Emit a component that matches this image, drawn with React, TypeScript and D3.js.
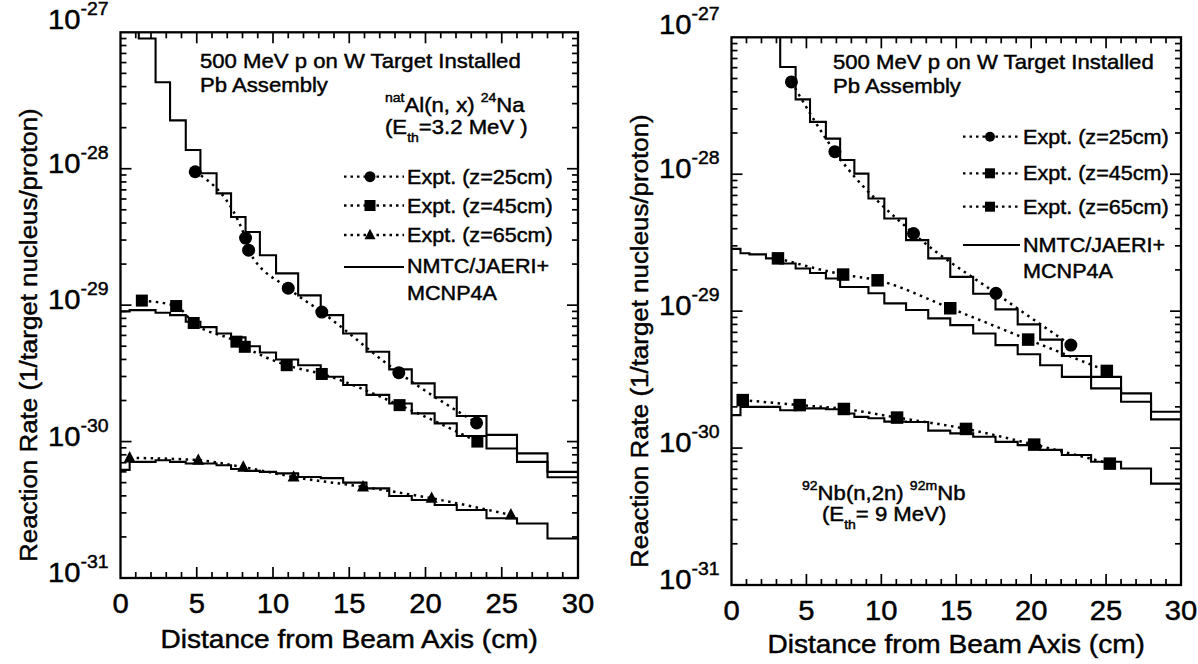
import React from "react";
import * as d3 from "d3";

const FONT = '"Liberation Sans", Arial, Helvetica, sans-serif';
const SX = 1.08;

// radial mesh of the calculation (cm)
const BIN_EDGES = [0, 0.6, 1.2, 2.3, 3.25, 4.28, 5.24, 6.3, 7.25, 8.2, 9.14, 10.2, 11.65, 13.13, 14.6, 16.13, 17.62, 19.1, 20.6, 22.05, 24.0, 26.0, 28.0, 30];

// Left panel: natAl(n,x)24Na — NMTC/JAERI+MCNP4A histograms
const AL_CALC_Z25 = [2e-27, 2e-27, 9.0e-28, 4.3e-28, 2.26e-28, 1.37e-28, 9.27e-29, 6.6e-29, 4.43e-29, 3.44e-29, 2.32e-29, 1.71e-29, 1.18e-29, 8.45e-30, 6.2e-30, 4.55e-30, 3.38e-30, 2.67e-30, 2.11e-30, 1.54e-30, 1.12e-30, 8.2e-31, 6.0e-31];
const AL_CALC_Z45 = [9.0e-30, 9.2e-30, 9.2e-30, 8.8e-30, 8.45e-30, 7.55e-30, 6.9e-30, 6.2e-30, 5.8e-30, 5.0e-30, 4.5e-30, 4.0e-30, 3.63e-30, 2.99e-30, 2.6e-30, 2.2e-30, 1.9e-30, 1.61e-30, 1.36e-30, 1.1e-30, 8.9e-31, 7.1e-31, 5.47e-31];
const AL_CALC_Z65 = [6.2e-31, 7.1e-31, 7.1e-31, 7.3e-31, 7.1e-31, 6.9e-31, 6.9e-31, 6.7e-31, 6.3e-31, 6.1e-31, 6.0e-31, 5.85e-31, 5.5e-31, 5.4e-31, 5.0e-31, 4.54e-31, 3.99e-31, 3.73e-31, 3.43e-31, 3.15e-31, 2.74e-31, 2.51e-31, 1.95e-31];

// Left panel: experiments
const AL_EXP_Z25_X = [4.9, 8.2, 8.4, 11.0, 13.2, 18.25, 23.35];
const AL_EXP_Z25_Y = [9.5e-29, 3.1e-29, 2.53e-29, 1.33e-29, 8.9e-30, 3.2e-30, 1.37e-30];
const AL_EXP_Z45_X = [1.4, 3.65, 4.8, 7.6, 8.15, 10.9, 13.2, 18.3, 23.4];
const AL_EXP_Z45_Y = [1.08e-29, 9.85e-30, 7.4e-30, 5.4e-30, 4.95e-30, 3.63e-30, 3.13e-30, 1.85e-30, 1.0e-30];
const AL_EXP_Z65_X = [0.6, 5.1, 8.05, 11.35, 15.9, 20.4, 25.6];
const AL_EXP_Z65_Y = [7.6e-31, 7.3e-31, 6.5e-31, 5.5e-31, 4.66e-31, 3.84e-31, 2.9e-31];

// Right panel: 92Nb(n,2n)92mNb — histograms
const NB_CALC_Z25 = [2e-27, 2e-27, 2e-27, 2e-27, 6.07e-28, 3.52e-28, 2.41e-28, 1.82e-28, 1.27e-28, 1.01e-28, 6.65e-29, 4.75e-29, 3.3e-29, 2.43e-29, 1.78e-29, 1.34e-29, 1.03e-29, 8.0e-30, 6.2e-30, 4.7e-30, 3.31e-30, 2.51e-30, 1.84e-30];
const NB_CALC_Z45 = [2.85e-29, 2.65e-29, 2.6e-29, 2.43e-29, 2.23e-29, 2.05e-29, 1.9e-29, 1.73e-29, 1.5e-29, 1.5e-29, 1.35e-29, 1.14e-29, 1.02e-29, 8.85e-30, 7.9e-30, 6.87e-30, 5.65e-30, 4.85e-30, 4.03e-30, 3.31e-30, 2.73e-30, 2.18e-30, 1.62e-30];
const NB_CALC_Z65 = [1.74e-30, 2.0e-30, 2.0e-30, 2.0e-30, 1.89e-30, 1.95e-30, 1.95e-30, 1.92e-30, 1.79e-30, 1.69e-30, 1.65e-30, 1.56e-30, 1.55e-30, 1.34e-30, 1.28e-30, 1.21e-30, 1.11e-30, 1.05e-30, 9.7e-31, 8.9e-31, 7.95e-31, 7.1e-31, 5.5e-31];

// Right panel: experiments
const NB_EXP_Z25_X = [4.0, 6.9, 12.15, 17.65, 22.65];
const NB_EXP_Z25_Y = [4.72e-28, 1.46e-28, 3.69e-29, 1.35e-29, 5.65e-30];
const NB_EXP_Z45_X = [3.1, 7.45, 9.75, 14.6, 19.8, 25.05];
const NB_EXP_Z45_Y = [2.43e-29, 1.85e-29, 1.68e-29, 1.05e-29, 6.2e-30, 3.66e-30];
const NB_EXP_Z65_X = [0.75, 4.55, 7.5, 11.05, 15.65, 20.2, 25.25];
const NB_EXP_Z65_Y = [2.24e-30, 2.06e-30, 1.93e-30, 1.67e-30, 1.38e-30, 1.06e-30, 7.7e-31];

const X_TICKS = [0, 5, 10, 15, 20, 25, 30];
const Y_EXPONENTS = [-27, -28, -29, -30, -31];
const LEGEND_LABELS = ["Expt. (z=25cm)", "Expt. (z=45cm)", "Expt. (z=65cm)"];
const CALC_LABEL = ["NMTC/JAERI+", "MCNP4A"];
const X_TITLE = "Distance from Beam Axis (cm)";
const Y_TITLE = "Reaction Rate (1/target nucleus/proton)";

type Geo = { x0: number; x1: number; y0: number; y1: number; titleY: number };
type Shape = "circle" | "square" | "triangle";

function Marker({ shape, x, y, s }: { shape: Shape; x: number; y: number; s: number }) {
  if (shape === "circle") return <circle cx={x} cy={y} r={s / 2} fill="#000" />;
  if (shape === "square") return <rect x={x - s / 2} y={y - s / 2} width={s} height={s} fill="#000" />;
  const h = s * 0.95;
  return <path d={`M${x},${y - h * 0.6}L${x + s / 2},${y + h * 0.4}L${x - s / 2},${y + h * 0.4}Z`} fill="#000" />;
}

function Label({ x, y, size, anchor = "start", rotate = 0, weight = 0.45, children }: any) {
  const tr = `translate(${x},${y})${rotate ? ` rotate(${rotate})` : ""} scale(${SX},1)`;
  return (
    <text transform={tr} fontSize={size} textAnchor={anchor} fontFamily={FONT} fill="#000" stroke="#000" strokeWidth={weight}>
      {children}
    </text>
  );
}

type Series = { xs: number[]; ys: number[]; shape: Shape; size: number };

function Panel({ geo, id, calc, expt, legend }: { geo: Geo; id: string; calc: number[][]; expt: Series[]; legend: any }) {
  const xs = d3.scaleLinear().domain([0, 30]).range([geo.x0, geo.x1]);
  const ys = d3.scaleLog().domain([1e-31, 1e-27]).range([geo.y1, geo.y0]);
  const step = d3
    .line<[number, number]>()
    .x((d) => xs(d[0]))
    .y((d) => ys(d[1]))
    .curve(d3.curveStepAfter);
  const smooth = d3
    .line<[number, number]>()
    .x((d) => xs(d[0]))
    .y((d) => ys(d[1]))
    .curve(d3.curveMonotoneX);

  const xMinor = d3.range(1, 30);
  const yMinor: { v: number; major: boolean }[] = [];
  for (let e = -31; e <= -28; e++) {
    for (let k = 1; k <= 9; k++) {
      const v = k * Math.pow(10, e);
      if (e === -31 && k === 1) continue;
      yMinor.push({ v, major: k === 1 });
    }
  }

  return (
    <g>
      <defs>
        <clipPath id={id}>
          <rect x={geo.x0} y={geo.y0} width={geo.x1 - geo.x0} height={geo.y1 - geo.y0} />
        </clipPath>
      </defs>
      <g clipPath={`url(#${id})`}>
        {calc.map((vals, i) => {
          const pts: [number, number][] = vals.map((v, j) => [BIN_EDGES[j], v] as [number, number]);
          pts.push([30, vals[vals.length - 1]]);
          return <path key={i} d={step(pts) || ""} fill="none" stroke="#000" strokeWidth={2.1} />;
        })}
        {expt.map((s, i) => {
          const pts: [number, number][] = s.xs.map((x, j) => [x, s.ys[j]] as [number, number]);
          return (
            <path key={i} d={smooth(pts) || ""} fill="none" stroke="#000" strokeWidth={2.5} strokeDasharray="2.5 4.5" />
          );
        })}
        {expt.map((s, i) =>
          s.xs.map((x, j) => <Marker key={`${i}-${j}`} shape={s.shape} x={xs(x)} y={ys(s.ys[j])} s={s.size} />)
        )}
      </g>
      {/* frame */}
      <rect x={geo.x0} y={geo.y0} width={geo.x1 - geo.x0} height={geo.y1 - geo.y0} fill="none" stroke="#000" strokeWidth={2.3} />
      {/* x ticks */}
      {xMinor.map((t) => {
        const L = t % 5 === 0 ? 11 : 6;
        return (
          <g key={t}>
            <line x1={xs(t)} x2={xs(t)} y1={geo.y1} y2={geo.y1 - L} stroke="#000" strokeWidth={1.7} />
            <line x1={xs(t)} x2={xs(t)} y1={geo.y0} y2={geo.y0 + L} stroke="#000" strokeWidth={1.7} />
          </g>
        );
      })}
      {/* y ticks */}
      {yMinor.map(({ v, major }, i) => {
        const L = major ? 11 : 6;
        return (
          <g key={i}>
            <line x1={geo.x0} x2={geo.x0 + L} y1={ys(v)} y2={ys(v)} stroke="#000" strokeWidth={1.7} />
            <line x1={geo.x1} x2={geo.x1 - L} y1={ys(v)} y2={ys(v)} stroke="#000" strokeWidth={1.7} />
          </g>
        );
      })}
      {/* x tick labels */}
      {X_TICKS.map((t) => (
        <Label key={t} x={xs(t)} y={geo.y1 + 35} size={27} anchor="middle">
          {t}
        </Label>
      ))}
      {/* y tick labels */}
      {Y_EXPONENTS.map((e) => (
        <Label key={e} x={geo.x0 - 12} y={ys(Math.pow(10, e)) + (e === -27 ? -3 : 4)} size={27} anchor="end">
          <tspan>10</tspan>
          <tspan fontSize={18} dy={-14}>{`${e}`}</tspan>
        </Label>
      ))}
      {/* axis titles */}
      <Label x={(geo.x0 + geo.x1) / 2} y={geo.titleY} size={26} anchor="middle">
        {X_TITLE}
      </Label>
      <Label x={geo.x0 - 84} y={(geo.y0 + geo.y1) / 2 + 30} size={24} anchor="middle" rotate={-90}>
        {Y_TITLE}
      </Label>
      {legend}
    </g>
  );
}

function Legend({ x0, x1, xm, xt, rows, lineY, textY }: any) {
  const shapes: Shape[] = rows.shapes;
  return (
    <g>
      {shapes.map((sh, i) => (
        <g key={i}>
          <line x1={x0} x2={x1} y1={rows.y[i]} y2={rows.y[i]} stroke="#000" strokeWidth={2.3} strokeDasharray="2.5 4" />
          <Marker shape={sh} x={xm} y={rows.y[i]} s={rows.size} />
          <Label x={xt} y={rows.y[i] + 7} size={20}>
            {LEGEND_LABELS[i]}
          </Label>
        </g>
      ))}
      <line x1={x0} x2={x1} y1={lineY} y2={lineY} stroke="#000" strokeWidth={2} />
      <Label x={xt} y={textY[0]} size={20}>
        {CALC_LABEL[0]}
      </Label>
      <Label x={xt} y={textY[1]} size={20}>
        {CALC_LABEL[1]}
      </Label>
    </g>
  );
}

const LEFT: Geo = { x0: 120.5, x1: 578, y0: 32.3, y1: 578, titleY: 648 };
const RIGHT: Geo = { x0: 731.5, x1: 1181, y0: 37.3, y1: 585, titleY: 653 };

export default function App() {
  const leftLegend = (
    <g>
      <Label x={200} y={68} size={20.5}>500 MeV p on W Target Installed</Label>
      <Label x={200} y={92} size={20.5}>Pb Assembly</Label>
      <Label x={385} y={112} size={20.5}>
        <tspan fontSize={13} dy={-10}>nat</tspan>
        <tspan dy={10}>Al(n, x) </tspan>
        <tspan fontSize={13} dy={-10}>24</tspan>
        <tspan dy={10}>Na</tspan>
      </Label>
      <Label x={385} y={134} size={20.5}>
        <tspan>(E</tspan>
        <tspan fontSize={13} dy={8}>th</tspan>
        <tspan dy={-8}>=3.2 MeV )</tspan>
      </Label>
      <Legend
        x0={344}
        x1={404}
        xm={370}
        xt={407}
        rows={{ shapes: ["circle", "square", "triangle"], y: [176.7, 205.5, 235], size: 11 }}
        lineY={267}
        textY={[273, 300]}
      />
    </g>
  );
  const rightLegend = (
    <g>
      <Label x={833} y={68.5} size={20.5}>500 MeV p on W Target Installed</Label>
      <Label x={833} y={92.5} size={20.5}>Pb Assembly</Label>
      <Legend
        x0={963}
        x1={1020}
        xm={990}
        xt={1023}
        rows={{ shapes: ["circle", "square", "square"], y: [136.7, 173.3, 206.7], size: 10 }}
        lineY={245}
        textY={[252, 278]}
      />
      <Label x={802} y={500} size={20.5}>
        <tspan fontSize={13} dy={-10}>92</tspan>
        <tspan dy={10}>Nb(n,2n) </tspan>
        <tspan fontSize={13} dy={-10}>92m</tspan>
        <tspan dy={10}>Nb</tspan>
      </Label>
      <Label x={822} y={521} size={20.5}>
        <tspan>(E</tspan>
        <tspan fontSize={13} dy={8}>th</tspan>
        <tspan dy={-8}>= 9 MeV)</tspan>
      </Label>
    </g>
  );

  return (
    <svg width={1198} height={664} style={{ position: "absolute", left: 0, top: 0, background: "#fff" }}>
      <rect width={1198} height={664} fill="#fff" />
      <Panel
        geo={LEFT}
        id="clipL"
        calc={[AL_CALC_Z25, AL_CALC_Z45, AL_CALC_Z65]}
        expt={[
          { xs: AL_EXP_Z25_X, ys: AL_EXP_Z25_Y, shape: "circle", size: 13 },
          { xs: AL_EXP_Z45_X, ys: AL_EXP_Z45_Y, shape: "square", size: 12 },
          { xs: AL_EXP_Z65_X, ys: AL_EXP_Z65_Y, shape: "triangle", size: 12 },
        ]}
        legend={leftLegend}
      />
      <Panel
        geo={RIGHT}
        id="clipR"
        calc={[NB_CALC_Z25, NB_CALC_Z45, NB_CALC_Z65]}
        expt={[
          { xs: NB_EXP_Z25_X, ys: NB_EXP_Z25_Y, shape: "circle", size: 13 },
          { xs: NB_EXP_Z45_X, ys: NB_EXP_Z45_Y, shape: "square", size: 12.5 },
          { xs: NB_EXP_Z65_X, ys: NB_EXP_Z65_Y, shape: "square", size: 12.5 },
        ]}
        legend={rightLegend}
      />
    </svg>
  );
}
